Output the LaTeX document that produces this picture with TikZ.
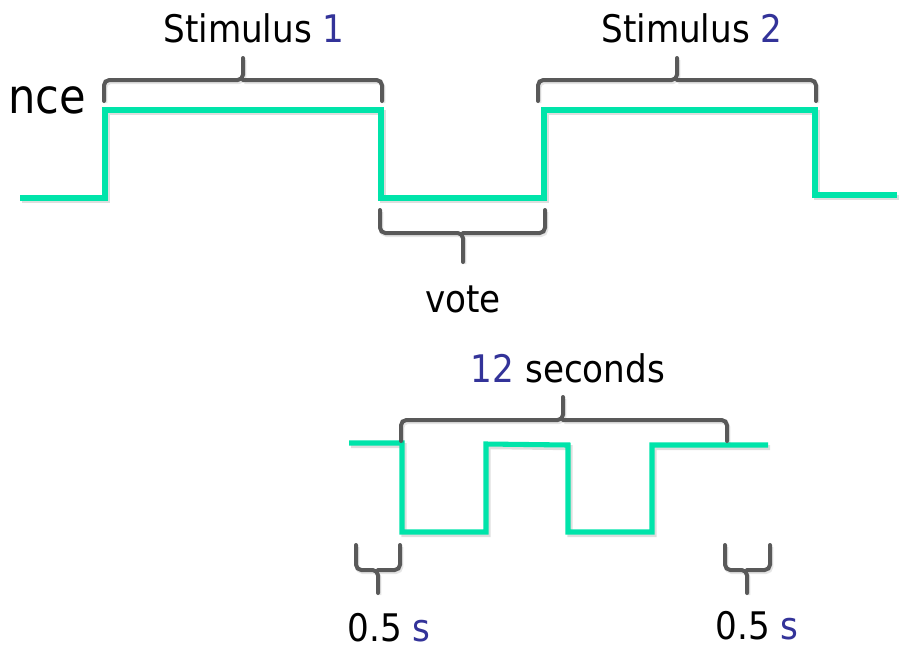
\documentclass[tikz,border=0pt]{standalone}
\usepackage{fontspec}
\setmainfont{DejaVu Sans Condensed}
\definecolor{wave}{RGB}{0,228,170}
\definecolor{brc}{RGB}{89,89,89}
\definecolor{num}{RGB}{51,51,153}
\begin{document}
\begin{tikzpicture}[x=0.75pt,y=-0.75pt,
  wavel/.style={draw=wave,line width=3.8pt,line join=miter,
    preaction={draw=black,opacity=0.13,line width=3.8pt,transform canvas={xshift=1.5pt,yshift=-2pt}}},
  bracel/.style={draw=brc,line width=3pt,rounded corners=4pt,line cap=round,
    preaction={draw=black,opacity=0.10,line width=3pt,transform canvas={xshift=1pt,yshift=-1.5pt}}},
  lbl/.style={font=\fontsize{28.5}{30}\selectfont,inner sep=0pt,anchor=base}]
\useasboundingbox (0,0) rectangle (905,650);

% top waveform
\draw[wavel] (20,198) -- (105,198) -- (105,110) -- (381,110) -- (381,198)
  -- (544,198) -- (544,110) -- (815,110) -- (815,195) -- (897,195);

% bottom waveform
\draw[wavel] (349,443) -- (402,443) -- (402,532) -- (486,532) -- (486,444)
  -- (568,445) -- (568,532) -- (652,532) -- (652,445) -- (768,445);

% braces
\coordinate (b1) at (243,80);
\draw[bracel] (104,101) |- (b1) -- (243,58);
\draw[bracel] (382,101) |- (b1);
\coordinate (b2) at (677,80);
\draw[bracel] (538,101) |- (b2) -- (677,58);
\draw[bracel] (816,101) |- (b2);
\coordinate (bv) at (463,233);
\draw[bracel] (380,210) |- (bv) -- (463,262);
\draw[bracel] (545,210) |- (bv);
\coordinate (bs) at (563,420);
\draw[bracel] (401,441) |- (bs) -- (563,397);
\draw[bracel] (727,441) |- (bs);
\coordinate (bl) at (378,570);
\draw[bracel] (356,545) |- (bl) -- (378,593);
\draw[bracel] (400,545) |- (bl);
\coordinate (br) at (747,570);
\draw[bracel] (725,545) |- (br) -- (747,593);
\draw[bracel] (770,545) |- (br);

% labels
\node[lbl] (s1) at (254,42) {Stimulus \textcolor{num}{1}};
\node[lbl] (s2) at (692,42) {Stimulus \textcolor{num}{2}};
\node[lbl] (vote) at (463,312) {vote};
\node[lbl] (sec) at (568,382) {\textcolor{num}{12} seconds};
\node[lbl] (h1) at (389,641) {0.5 \textcolor{num}{s}};
\node[lbl] (h2) at (757,639) {0.5 \textcolor{num}{s}};
\node[lbl,anchor=base east,font=\fontsize{36}{38}\selectfont] (nce) at (86,113) {nce};
\end{tikzpicture}
\end{document}
